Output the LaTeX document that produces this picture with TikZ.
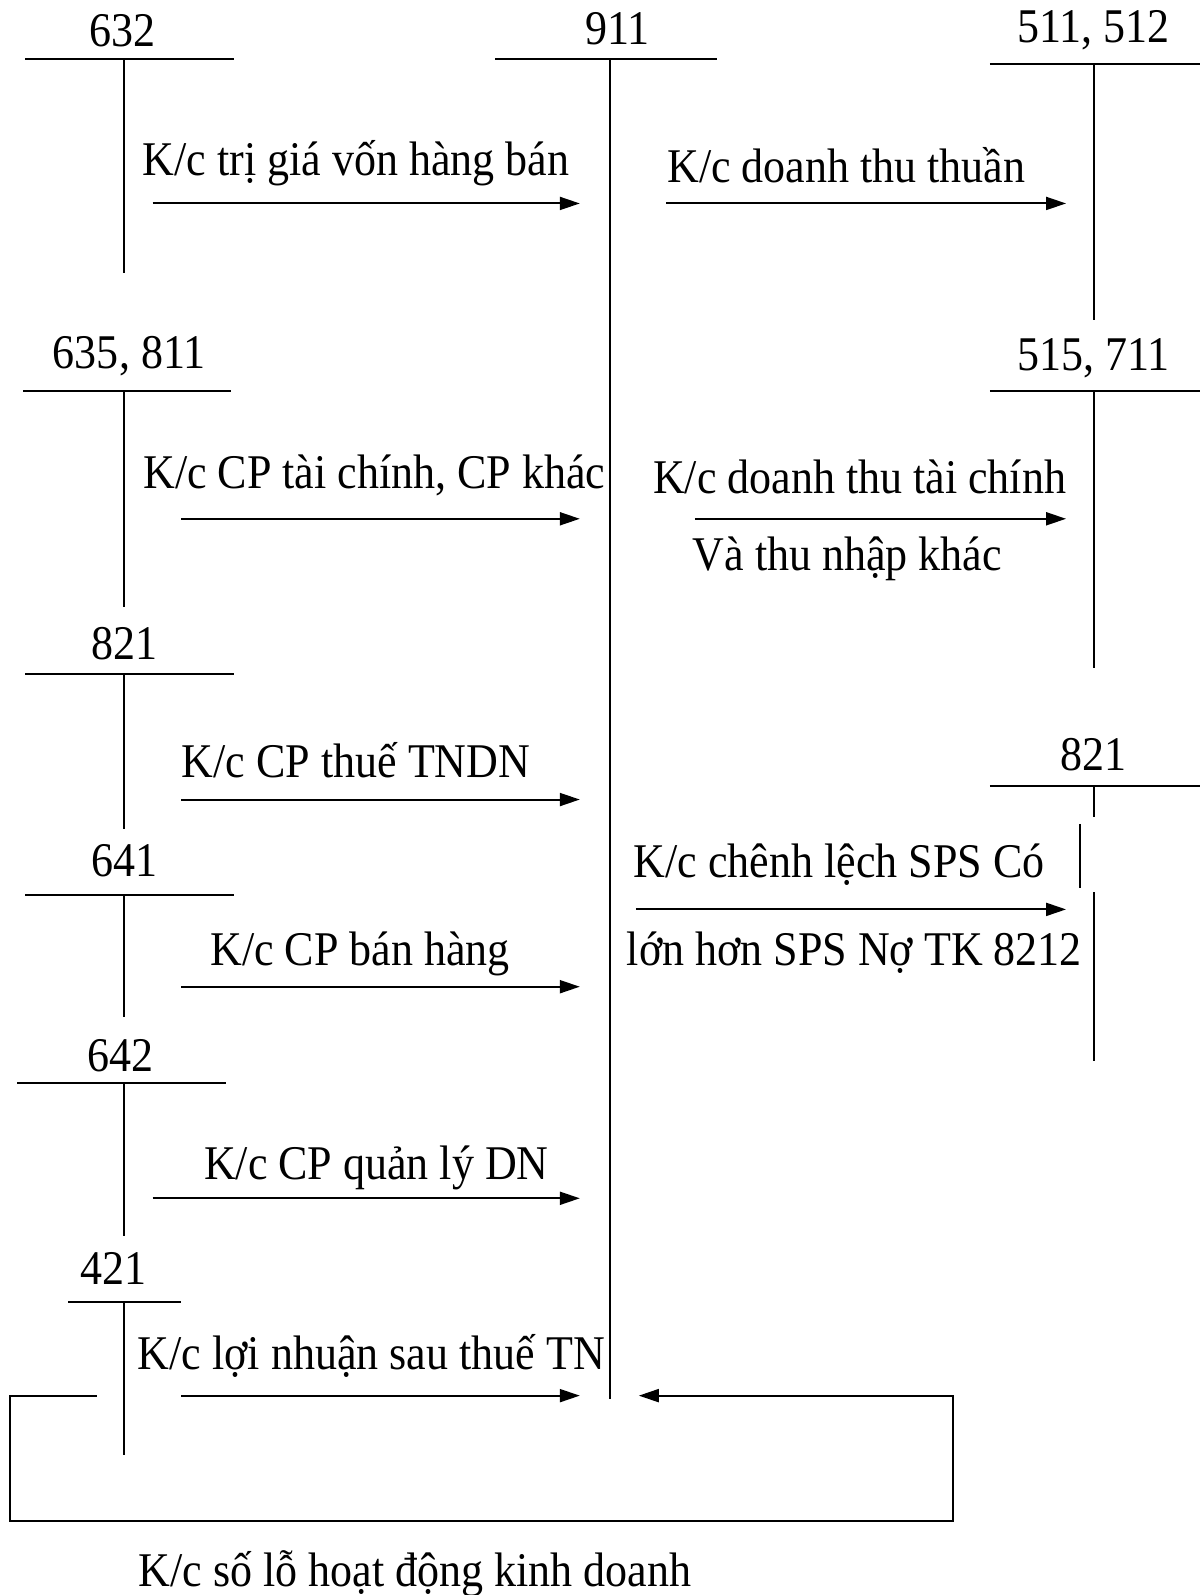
\documentclass[tikz,border=0pt]{standalone}
\usepackage{graphicx}
\usepackage{fontspec}
\setmainfont{Liberation Serif}
\usetikzlibrary{arrows.meta, positioning}
\newcommand{\vtx}[1]{\scalebox{1}[1.1]{#1}}

\begin{document}
\begin{tikzpicture}[x=1.017pt, y=-1.017pt,
    acct/.style={line width=2pt},
    flow/.style={line width=2pt, -{Triangle[length=20pt,width=13pt]}},
    lbl/.style={font=\fontsize{44}{48}\selectfont, inner sep=0pt}]
    \useasboundingbox (0,0) rectangle (1183,1568);

    % Account 911 in the middle
    \node[lbl] (t911) at (607,28) {\vtx{911}};
    \draw[acct] (487,58) -- (705,58) (600,58) -- (600,1375);

    % Accounts on the left
    \node[lbl] (t632) at (120,30) {\vtx{632}};
    \draw[acct] (25,58) -- (230,58) (122,58) -- (122,268);
    \node[lbl] (t635) at (127,350) {\vtx{635, 811}};
    \draw[acct] (23,384) -- (227,384) (122,384) -- (122,597);
    \node[lbl] (t821l) at (122,633) {\vtx{821}};
    \draw[acct] (25,663) -- (230,663) (122,663) -- (122,815);
    \node[lbl] (t641) at (122,846) {\vtx{641}};
    \draw[acct] (25,880) -- (230,880) (122,880) -- (122,1000);
    \node[lbl] (t642) at (118,1038) {\vtx{642}};
    \draw[acct] (17,1065) -- (222,1065) (122,1065) -- (122,1215);
    \node[lbl] (t421) at (112,1247) {\vtx{421}};
    \draw[acct] (67,1280) -- (178,1280) (122,1280) -- (122,1430);

    % Accounts on the right
    \node[lbl] (t511) at (1075,30) {\vtx{511, 512}};
    \draw[acct] (973,63) -- (1180,63) (1075,63) -- (1075,315);
    \node[lbl] (t515) at (1075,352) {\vtx{515, 711}};
    \draw[acct] (973,384) -- (1180,384) (1075,384) -- (1075,657);
    \node[lbl] (t821r) at (1075,742) {\vtx{821}};
    \draw[acct] (973,773) -- (1180,773) (1075,773) -- (1075,803)
        (1062,810) -- (1062,873) (1075,877) -- (1075,1043);

    % Transfers into 911 (debit side)
    \coordinate (c632) at (150,200);   \coordinate (d632) at (570,200);
    \coordinate (c635) at (178,510);   \coordinate (d635) at (570,510);
    \coordinate (c821) at (178,786);   \coordinate (d821) at (570,786);
    \coordinate (c641) at (178,970);   \coordinate (d641) at (570,970);
    \coordinate (c642) at (150,1178);  \coordinate (d642) at (570,1178);
    \coordinate (c421) at (178,1372);  \coordinate (d421) at (570,1372);
    \draw[flow] (c632) -- (d632);
    \draw[flow] (c635) -- (d635);
    \draw[flow] (c821) -- (d821);
    \draw[flow] (c641) -- (d641);
    \draw[flow] (c642) -- (d642);
    \draw[flow] (c421) -- (d421);
    \node[lbl] (k632) at (350,160) {\vtx{K/c trị giá vốn hàng bán}};
    \node[lbl] (k635) at (368,467) {\vtx{K/c CP tài chính, CP khác}};
    \node[lbl] (k821) at (350,747) {\vtx{K/c CP thuế TNDN}};
    \node[lbl] (k641) at (354,938) {\vtx{K/c CP bán hàng}};
    \node[lbl] (k642) at (370,1148) {\vtx{K/c CP quản lý DN}};
    \node[lbl] (k421) at (365,1333) {\vtx{K/c lợi nhuận sau thuế TN}};

    % Transfers out of 911 (credit side)
    \coordinate (c511) at (655,200);   \coordinate (d511) at (1048,200);
    \coordinate (c515) at (683,510);   \coordinate (d515) at (1048,510);
    \coordinate (c8212) at (625,894);  \coordinate (d8212) at (1048,894);
    \draw[flow] (c511) -- (d511);
    \draw[flow] (c515) -- (d515);
    \draw[flow] (c8212) -- (d8212);
    \node[lbl] (k511) at (832,162) {\vtx{K/c doanh thu thuần}};
    \node[lbl] (k515) at (845,469) {\vtx{K/c doanh thu tài chính}};
    \node[lbl] (k515b) at (833,549) {\vtx{Và thu nhập khác}};
    \node[lbl] (k8212) at (825,850) {\vtx{K/c chênh lệch SPS Có}};
    \node[lbl] (k8212b) at (840,937) {\vtx{lớn hơn SPS Nợ TK 8212}};

    % Loss carried back round
    \coordinate (lossS) at (95,1372);
    \coordinate (lossE) at (628,1372);
    \draw[flow] (lossS) -| (10,1495) -| (937,1372) -- (lossE);
    \node[lbl] (kloss) at (408,1547) {\vtx{K/c số lỗ hoạt động kinh doanh}};
\end{tikzpicture}
\end{document}
